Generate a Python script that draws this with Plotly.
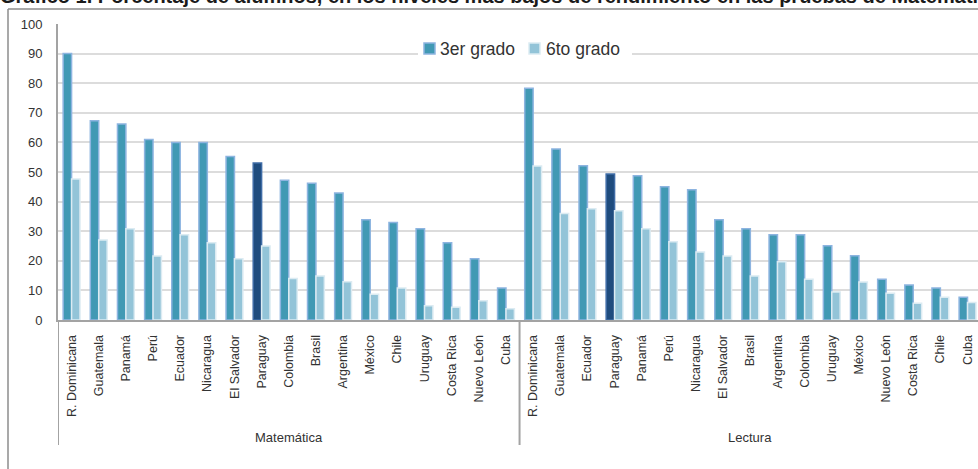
import plotly.graph_objects as go

title_text = "Gráfico 1. Porcentaje de alumnos, en los niveles más bajos de rendimiento en las pruebas de Matemática y Lectura"
groups = ["Matemática", "Lectura"]
series_names = ["3er grado", "6to grado"]

countries_math = ["R. Dominicana", "Guatemala", "Panamá", "Perú", "Ecuador", "Nicaragua",
                  "El Salvador", "Paraguay", "Colombia", "Brasil", "Argentina", "México",
                  "Chile", "Uruguay", "Costa Rica", "Nuevo León", "Cuba"]
math_3er = [90.0, 67.3, 66.2, 61.0, 60.0, 60.0, 55.2, 53.0, 47.2, 46.2, 42.9, 33.9, 32.9, 30.8, 26.1, 20.7, 10.8]
math_6to = [47.6, 27.0, 30.8, 21.6, 28.8, 26.1, 20.7, 25.0, 14.0, 14.9, 12.9, 8.7, 10.8, 4.8, 4.3, 6.5, 3.8]

countries_lect = ["R. Dominicana", "Guatemala", "Ecuador", "Paraguay", "Panamá", "Perú",
                  "Nicaragua", "El Salvador", "Brasil", "Argentina", "Colombia", "Uruguay",
                  "México", "Nuevo León", "Costa Rica", "Chile", "Cuba"]
lect_3er = [78.3, 57.8, 52.1, 49.3, 48.7, 45.0, 44.0, 33.9, 30.8, 28.8, 28.8, 25.1, 21.7, 13.8, 11.8, 10.8, 7.7]
lect_6to = [52.0, 36.0, 37.6, 36.9, 30.8, 26.4, 23.0, 21.6, 14.9, 19.7, 13.8, 9.5, 12.8, 9.0, 5.7, 7.7, 5.9]

highlight = "Paraguay"

labels = countries_math + countries_lect
v3 = math_3er + lect_3er
v6 = math_6to + lect_6to
xs = list(range(len(labels)))

c3, c3l = "#4199B4", "#8DB4E0"
c6, c6l = "#93C4D8", "#DCEBF2"
hl, hll = "#1F4C7E", "#3F6CA6"

col3 = [hl if c == highlight else c3 for c in labels]
col3l = [hll if c == highlight else c3l for c in labels]

FONT = "Liberation Sans, Arial, sans-serif"
TXT = "#333333"

fig = go.Figure()
fig.add_trace(go.Bar(x=xs, y=v3, name=series_names[0], showlegend=False,
                     marker=dict(color=col3, line=dict(color=col3l, width=1.5))))
fig.add_trace(go.Bar(x=xs, y=v6, name=series_names[1], showlegend=False,
                     marker=dict(color=c6, line=dict(color=c6l, width=1.5))))

n1 = len(countries_math)
n = len(labels)
W, H = 978, 469
ml, mr, mt, mb = 58, 0, 24, 149
pw, ph = W - ml - mr, H - mt - mb

def px_x(p):
    return (p - ml) / pw

def px_y(p):
    return (H - mb - p) / ph

shapes = []
axis_col = "#A3A3A3"
# category dividers (extend into label area)
for xv in [-0.5, n1 - 0.5]:
    shapes.append(dict(type="line", xref="x", yref="paper", x0=xv, x1=xv,
                       y0=0, y1=px_y(445), line=dict(color=axis_col, width=2)))
# outer frame
shapes.append(dict(type="line", xref="paper", yref="paper", x0=px_x(8), x1=px_x(990),
                   y0=px_y(9), y1=px_y(9), line=dict(color="#8C8C8C", width=1.5)))
shapes.append(dict(type="line", xref="paper", yref="paper", x0=px_x(8), x1=px_x(8),
                   y0=px_y(9), y1=px_y(475), line=dict(color="#8C8C8C", width=1.5)))

# legend (drawn as boxes + text)
shapes.append(dict(type="rect", xref="paper", yref="paper", x0=px_x(418), x1=px_x(632),
                   y0=px_y(38), y1=px_y(60), fillcolor="white", line=dict(width=0), layer="above"))
leg = [(series_names[0], c3, c3l, 424, 439), (series_names[1], c6, c6l, 529, 545)]
annotations = []
for name, fc, lc, sx, tx in leg:
    shapes.append(dict(type="rect", xref="paper", yref="paper", x0=px_x(sx), x1=px_x(sx + 11),
                       y0=px_y(54), y1=px_y(43), fillcolor=fc, line=dict(color=lc, width=1.5),
                       layer="above"))
    annotations.append(dict(x=px_x(tx - 1), y=px_y(49), xref="paper", yref="paper", text=name,
                            xanchor="left", yanchor="middle", showarrow=False,
                            font=dict(family=FONT, size=17.5, color=TXT)))

annotations += [
    dict(x=(n1 - 1) / 2, y=px_y(437), xref="x", yref="paper", text=groups[0],
         xanchor="center", yanchor="middle", showarrow=False,
         font=dict(family=FONT, size=13, color=TXT)),
    dict(x=n1 + (n - n1 - 1) / 2, y=px_y(437), xref="x", yref="paper", text=groups[1],
         xanchor="center", yanchor="middle", showarrow=False,
         font=dict(family=FONT, size=13, color=TXT)),
    dict(x=px_x(-2), y=px_y(-4.5), xref="paper", yref="paper", text="<b>" + title_text + "</b>",
         xanchor="left", yanchor="middle", showarrow=False,
         font=dict(family=FONT, size=20, color="#1A1A1A")),
]

fig.update_layout(
    width=W, height=H,
    margin=dict(l=ml, r=mr, t=mt, b=mb, pad=0),
    paper_bgcolor="white", plot_bgcolor="white",
    barmode="group", bargap=0.38, bargroupgap=0,
    font=dict(family=FONT, color=TXT),
    showlegend=False,
    xaxis=dict(range=[-0.5, -0.5 + pw / 27.15], tickmode="array", tickvals=xs, ticktext=labels,
               tickangle=-90, showgrid=False, showline=True, linecolor=axis_col, linewidth=2,
               ticks="", ticklabelstandoff=8, tickfont=dict(family=FONT, size=12.5, color=TXT),
               fixedrange=True),
    yaxis=dict(range=[0, 100], dtick=10, showgrid=True, gridcolor="#DCDCDC", gridwidth=1.5,
               showline=True, linecolor=axis_col, linewidth=2, zeroline=False, ticks="",
               ticklabelstandoff=11, tickfont=dict(family=FONT, size=13, color=TXT),
               fixedrange=True),
    shapes=shapes, annotations=annotations,
)

fig.write_html("out.html", config={"displayModeBar": False},
               post_script="document.body.style.margin='0px';document.body.style.overflow='hidden';")
